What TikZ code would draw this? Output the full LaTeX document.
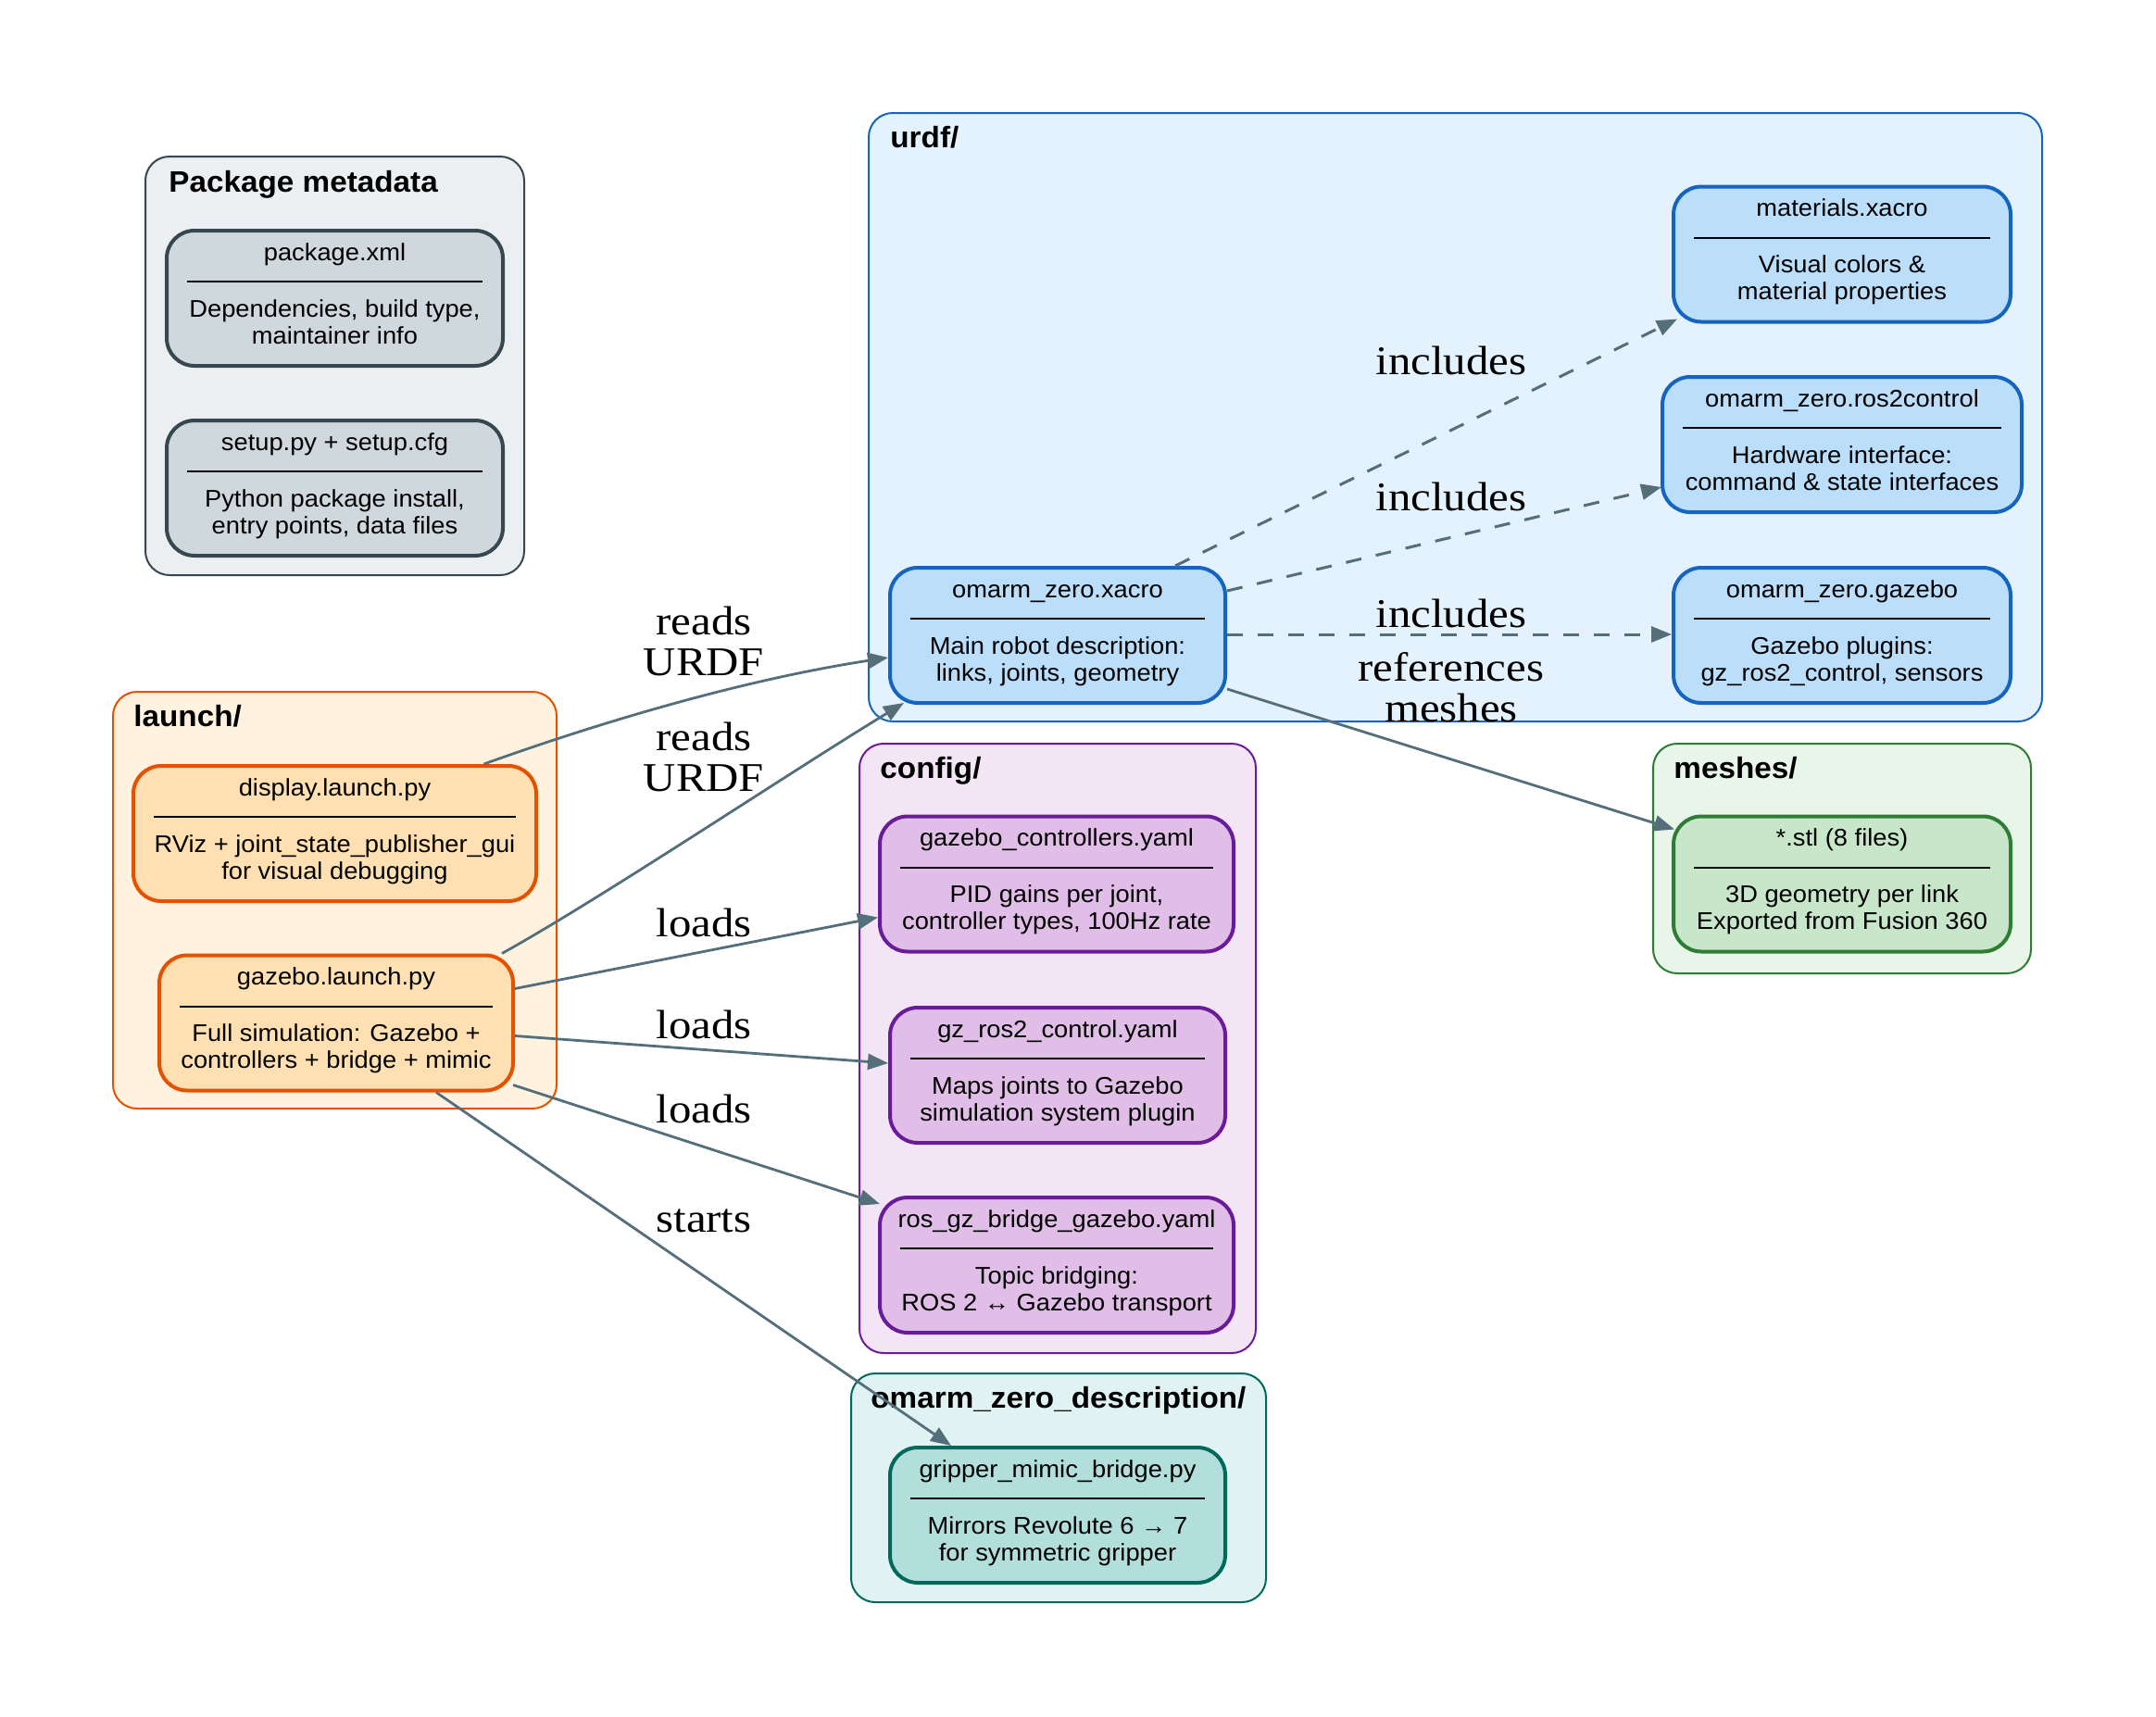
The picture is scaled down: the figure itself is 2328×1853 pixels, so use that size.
\documentclass[tikz,border=0pt]{standalone}
\usepackage{fontspec}
\setmainfont{Liberation Serif}
\setsansfont{Liberation Sans}
\newfontfamily\lblfont[FakeStretch=1.11]{Liberation Serif}
\newfontfamily\nodefont[FakeStretch=1.05]{Liberation Sans}
\newfontfamily\titlefont[FakeStretch=1.04]{Liberation Sans}
\usetikzlibrary{calc,arrows.meta}
\definecolor{edgec}{HTML}{546E7A}
\definecolor{metaF}{HTML}{ECEFF1}\definecolor{metaD}{HTML}{37474F}\definecolor{metaN}{HTML}{CFD8DC}
\definecolor{urdfF}{HTML}{E3F2FD}\definecolor{urdfD}{HTML}{1565C0}\definecolor{urdfN}{HTML}{BBDEFB}
\definecolor{launF}{HTML}{FFF3E0}\definecolor{launD}{HTML}{E65100}\definecolor{launN}{HTML}{FFE0B2}
\definecolor{confF}{HTML}{F3E5F5}\definecolor{confD}{HTML}{6A1B9A}\definecolor{confN}{HTML}{E1BEE7}
\definecolor{meshF}{HTML}{E8F5E9}\definecolor{meshD}{HTML}{2E7D32}\definecolor{meshN}{HTML}{C8E6C9}
\definecolor{descF}{HTML}{E0F2F1}\definecolor{descD}{HTML}{00695C}\definecolor{descN}{HTML}{B2DFDB}
\tikzset{
  clusterbox/.style={draw=#1D, fill=#1F, line width=1pt, rounded corners=13pt},
  filebox/.style={draw=#1D, fill=#1N, line width=2pt, rounded corners=15pt, inner sep=0pt, rectangle},
  ctitle/.style={anchor=base west, inner sep=0pt, font=\fontsize{16}{19}\selectfont\titlefont\bfseries},
  ftxt/.style={anchor=base, inner sep=0pt, font=\fontsize{13}{15}\selectfont\nodefont},
  divider/.style={draw=black, line width=1pt},
  edge/.style={draw=edgec, line width=1.4pt, -{Triangle[length=11pt,width=8.5pt]}},
  dashedge/.style={edge, line width=1.5pt, dash pattern=on 8.5pt off 8pt},
  elabel/.style={align=center, inner sep=0pt, font=\fontsize{22}{22}\selectfont\lblfont}
}
\newcommand{\filenode}[8]{%
  \node[filebox=#2, minimum width=#5*0.5pt, minimum height=73pt] (#1) at (#3,#4) {};
  \node[ftxt] (#1-t) at ($(#1.north)+(0,34)$) {#6};
  \draw[divider] ($(#1.north west)+(24,57)$) -- ($(#1.north east)+(-24,57)$);
  \node[ftxt] (#1-a) at ($(#1.north)+(0,95)$) {#7};
  \node[ftxt] (#1-b) at ($(#1.north)+(0,124)$) {#8};
}
\begin{document}
\begin{tikzpicture}[x=0.5pt,y=-0.5pt]
\useasboundingbox (0,0) rectangle (2328,1853);
\fill[white] (0,0) rectangle (2328,1853);
% clusters
\draw[clusterbox=meta] (157,169) rectangle (566,621);
\node[ctitle] (tmeta) at (182,207) {Package metadata};
\draw[clusterbox=urdf] (938,122) rectangle (2205,779);
\node[ctitle] (turdf) at (961,159) {urdf/};
\draw[clusterbox=laun] (122,747) rectangle (601,1197);
\node[ctitle] (tlaun) at (144,784) {launch/};
\draw[clusterbox=conf] (928,803) rectangle (1356,1461);
\node[ctitle] (tconf) at (950,840) {config/};
\draw[clusterbox=mesh] (1785,803) rectangle (2193,1051);
\node[ctitle] (tmesh) at (1807,840) {meshes/};
\draw[clusterbox=desc] (919,1483) rectangle (1367,1730);
\node[ctitle] (tdesc) at (940,1520) {omarm\_zero\_description/};
% nodes
\filenode{pkg}{meta}{361.5}{322}{363}{package.xml}{Dependencies, build type,}{maintainer info}
\filenode{setup}{meta}{361.5}{527}{363}{setup.py + setup.cfg}{Python package install,}{entry points, data files}
\filenode{materials}{urdf}{1989}{274.5}{364}{materials.xacro}{Visual colors \&}{material properties}
\filenode{rostwo}{urdf}{1989}{480}{388}{omarm\_zero.ros2control}{Hardware interface:}{command \& state interfaces}
\filenode{gazx}{urdf}{1989}{686}{364}{omarm\_zero.gazebo}{Gazebo plugins:}{gz\_ros2\_control, sensors}
\filenode{xacro}{urdf}{1142}{686}{362}{omarm\_zero.xacro}{Main robot description:}{links, joints, geometry}
\filenode{display}{laun}{361.5}{900}{435}{display.launch.py}{RViz + joint\_state\_publisher\_gui}{for visual debugging}
\filenode{gzl}{laun}{363}{1104.5}{382}{gazebo.launch.py}{Full simulation: Gazebo +}{controllers + bridge + mimic}
\filenode{gzctrl}{conf}{1141}{954.5}{382}{gazebo\_controllers.yaml}{PID gains per joint,}{controller types, 100Hz rate}
\filenode{gzros}{conf}{1142}{1161}{362}{gz\_ros2\_control.yaml}{Maps joints to Gazebo}{simulation system plugin}
\filenode{bridge}{conf}{1141}{1366}{382}{ros\_gz\_bridge\_gazebo.yaml}{Topic bridging:}{ROS 2 ↔ Gazebo transport}
\filenode{gripper}{desc}{1142}{1636}{362}{gripper\_mimic\_bridge.py}{Mirrors Revolute 6 → 7}{for symmetric gripper}
\filenode{stl}{mesh}{1989}{954.5}{364}{*.stl (8 files)}{3D geometry per link}{Exported from Fusion 360}
% edges
\draw[edge] ($(display.north)+(161,0)$) .. controls +(117,-42) and +(-163,25) .. ($(xacro.west)+(0,24)$);
\draw[edge] ($(gzl.north)+(179,0)$) .. controls +(108,-60) and +(-128,78) .. ($(xacro.south west)+(17,-2)$);
\draw[edge] ($(gzl.east)+(0,-37)$) -- ($(gzctrl.west)+(0,36)$);
\draw[edge] ($(gzl.east)+(0,14)$) -- ($(gzros.west)+(0,-13)$);
\draw[edge] ($(gzl.south east)+(-2,-8)$) -- ($(bridge.north west)+(2,9)$);
\draw[edge] ($(gzl.south)+(108,0)$) -- ($(gripper.north west)+(68,0)$);
\draw[dashedge] ($(xacro.north)+(127,0)$) -- ($(materials.south west)+(6,-5)$);
\draw[dashedge] ($(xacro.north east)+(0,27)$) -- ($(rostwo.west)+(1,46)$);
\draw[dashedge] ($(xacro.east)+(0,-1)$) -- ($(gazx.west)+(0,-1)$);
\draw[edge] ($(xacro.south east)+(0,-17)$) -- ($(stl.north west)+(3,16)$);
% edge labels
\node[elabel] (l1) at (760,692) {reads\\URDF};
\node[elabel] (l2) at (760,817) {reads\\URDF};
\node[elabel] (l3) at (760,996) {loads};
\node[elabel] (l4) at (760,1106) {loads};
\node[elabel] (l5) at (760,1197) {loads};
\node[elabel] (l6) at (760,1318) {starts};
\node[elabel] (l7) at (1567,389) {includes};
\node[elabel] (l8) at (1567,536) {includes};
\node[elabel] (l9) at (1567,662) {includes};
\node[elabel] (l10) at (1567,742) {references\\meshes};
\end{tikzpicture}
\end{document}
